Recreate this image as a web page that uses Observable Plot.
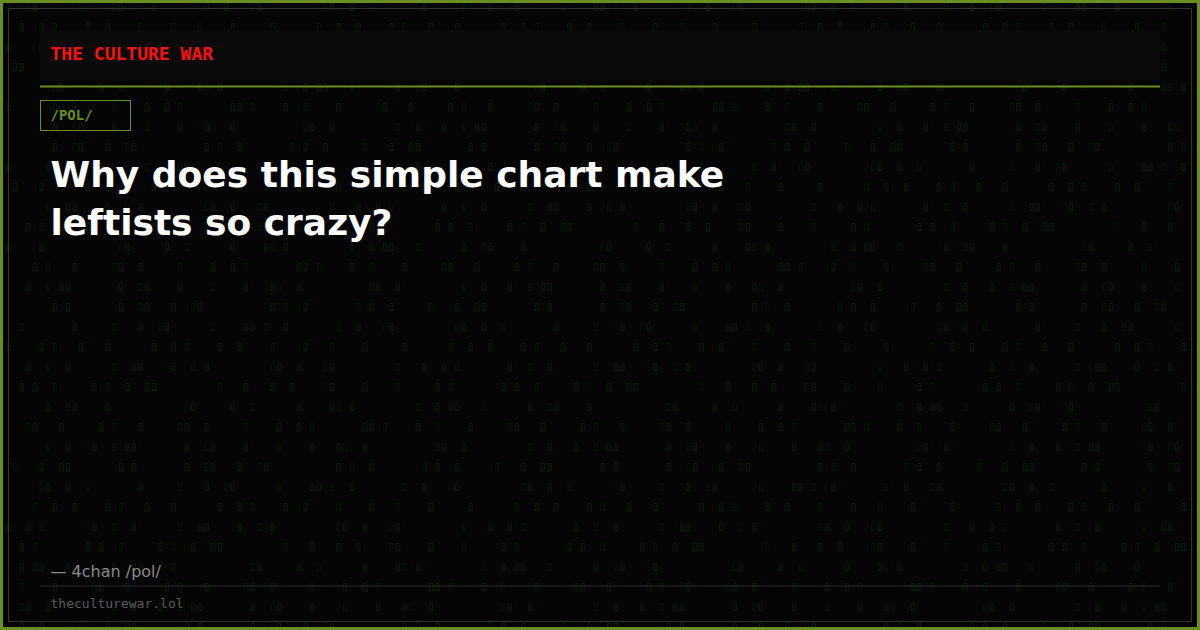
<!DOCTYPE html>
<html>
<head>
<meta charset="utf-8">
<script src="https://cdn.jsdelivr.net/npm/d3@7"></script>
<script src="https://cdn.jsdelivr.net/npm/@observablehq/plot@0.6"></script>
<style>
  html, body { margin: 0; padding: 0; background: #050505; }
  #chart { width: 1200px; height: 630px; }
</style>
</head>
<body>
<div id="chart"></div>
<script>
// ---- content ----
const brandName = "THE CULTURE WAR";
const boardTag = "/POL/";
const headlineLines = ["Why does this simple chart make", "leftists so crazy?"];
const attribution = "— 4chan /pol/";
const siteUrl = "theculturewar.lol";

// ---- decorative background rain (hand-typed row patterns: '#' bright, '+' dim, '.' empty) ----
const glyphRows = [
  "#..+#......+....##.+..#.......+..#...+#.........+#..#..+.......#.....+...",
  "..#.+...#...#......#..#.+....#..#....+....#...+....#.....#......+..#..#..",
  "+...#..#.+.......#..+..#......+..##....#..+.#.........+#..#...+#.........",
  ".#....+#....#....+.....#.+.......#.#..+.....#.+..#..##.........+...#...#.",
  "..+#.....#..+......#....#+.#.........+..#.##...+......#..+#....#.........",
  "#.....#.+...#.....+#..#.....+....#..#.+.......##.+....#..+....#.....+#...",
  ".+#..#.........+..#...#..+.##.......#..+#....#....+....#...#+..#.........",
  "...#.+..#.......+.#..#.....+...#..##.......#.#.......#..+#...#..+#......."
];
const rowStep = 20;
const colStep = 6.6;

const glyphs = [];
for (let r = 0; r < 32; r++) {
  const pat = glyphRows[r % glyphRows.length];
  for (let c = 0; c < 179; c++) {
    const ch = pat[(c + r * 17) % pat.length];
    if (ch !== ".") glyphs.push({col: c, row: r, level: ch});
  }
}

const chart = Plot.plot({
  width: 1200,
  height: 630,
  margin: 0,
  style: {background: "#050505"},
  x: {domain: [0, 1200], range: [0, 1200], axis: null},
  y: {domain: [0, 630], range: [0, 630], axis: null},
  marks: [
    // background glyph rain
    Plot.text(glyphs, {
      x: d => 8 + d.col * colStep,
      y: d => 6 + d.row * rowStep,
      text: () => "▯",
      fill: d => d.level === "#" ? "#083008" : "#041a04",
      fontSize: 10,
      fontFamily: "DejaVu Sans"
    }),
    // outer olive frame
    Plot.rect([0], {x1: 1.5, x2: 1198.5, y1: 1.5, y2: 628.5, stroke: "#6b8e23", strokeWidth: 3, fill: "none"}),
    // inner thin grey frame
    Plot.rect([0], {x1: 8.5, x2: 1191.5, y1: 8.5, y2: 621.5, stroke: "#333", strokeWidth: 1, fill: "none"}),
    // header band
    Plot.rect([0], {x1: 40, x2: 1160, y1: 30, y2: 81, fill: "#0a0a0a"}),
    Plot.ruleY([86], {x1: 40, x2: 1160, stroke: "#6b8e23", strokeWidth: 2}),
    Plot.text([brandName], {
      x: 50, y: 54.2, text: d => d, textAnchor: "start",
      fill: "#ff1010", fontSize: 18, fontWeight: "bold",
      fontFamily: "DejaVu Sans Mono"
    }),
    // board tag box
    Plot.rect([0], {x1: 40.5, x2: 130.5, y1: 100.5, y2: 130.5, stroke: "#6b8e23", strokeWidth: 1, fill: "none"}),
    Plot.text([boardTag], {
      x: 50, y: 115.5, text: d => d, textAnchor: "start",
      fill: "#6b8e23", fontSize: 14, fontWeight: "bold", fontFamily: "DejaVu Sans Mono"
    }),
    // headline
    Plot.text(headlineLines, {
      x: 50, y: (d, i) => 174.5 + i * 48, text: d => d, textAnchor: "start",
      fill: "#ffffff", fontSize: 36, fontWeight: "bold", fontFamily: "DejaVu Sans"
    }),
    // attribution
    Plot.text([attribution], {
      x: 50, y: 571, text: d => d, textAnchor: "start",
      fill: "#8a8a8a", fontSize: 16, fontFamily: "DejaVu Sans"
    }),
    Plot.ruleY([585.5], {x1: 40, x2: 1160, stroke: "#2e2e2e", strokeWidth: 1}),
    Plot.text([siteUrl], {
      x: 50, y: 603, text: d => d, textAnchor: "start",
      fill: "#5a5a5a", fontSize: 13, fontFamily: "DejaVu Sans Mono"
    })
  ]
});
document.getElementById("chart").appendChild(chart);
</script>
</body>
</html>
